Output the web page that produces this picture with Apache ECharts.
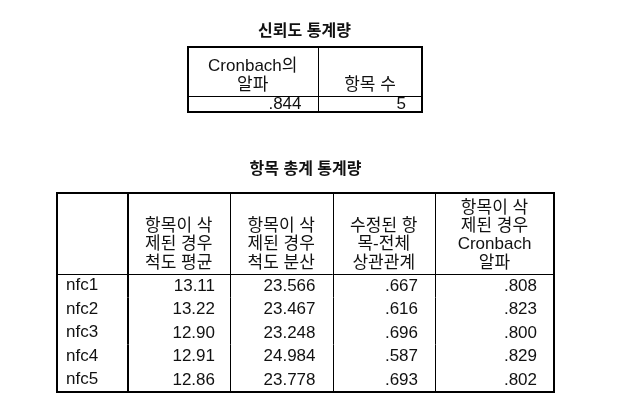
<!DOCTYPE html>
<html>
<head>
<meta charset="UTF-8">
<title>신뢰도 통계량</title>
<script src="https://cdn.jsdelivr.net/npm/echarts@6/dist/echarts.min.js"></script>
<style>
*{padding:0;margin:0}
body{background:#fff}
#main{width:631px;height:408px}
</style>
</head>
<body>
<div id="main"></div>
<script>
// 신뢰도 통계량
var reliabilityTitle = '신뢰도 통계량';
var reliabilityHeaders = ['Cronbach의\n알파', '항목 수'];
var reliabilityAlpha = [0.844];
var reliabilityItemCount = [5];

// 항목 총계 통계량
var itemTitle = '항목 총계 통계량';
var itemHeaders = ['', '항목이 삭\n제된 경우\n척도 평균', '항목이 삭\n제된 경우\n척도 분산',
    '수정된 항\n목-전체\n상관관계', '항목이 삭\n제된 경우\nCronbach\n알파'];
var itemNames = ['nfc1', 'nfc2', 'nfc3', 'nfc4', 'nfc5'];
var scaleMeanIfDeleted = [13.11, 13.22, 12.90, 12.91, 12.86];
var scaleVarianceIfDeleted = [23.566, 23.467, 23.248, 24.984, 23.778];
var correctedItemTotal = [0.667, 0.616, 0.696, 0.587, 0.693];
var alphaIfDeleted = [0.808, 0.823, 0.800, 0.829, 0.802];

var FONT = '"Liberation Sans", "Noto Sans CJK KR", sans-serif';
var INK = '#111';

// SPSS식 표기: 0.844 -> .844
function fmt(v, d) {
    var s = v.toFixed(d);
    return (v >= 0 && v < 1) ? s.replace(/^0/, '') : s;
}

// 표 배치 (크기/위치만)
var tables = [
    {
        left: 187.5, top: 46.7, colW: [130.5, 104], headH: 49.3, rowH: 15.7,
        thickCol: -1, padR: [16.5, 16], labelCol: false,
        headers: reliabilityHeaders,
        rows: reliabilityAlpha.map(function (a, i) {
            return [fmt(a, 3), fmt(reliabilityItemCount[i], 0)];
        })
    },
    {
        left: 57, top: 192.7, colW: [70.5, 102.5, 102.5, 102.5, 119], headH: 81.3, rowH: 23.5,
        thickCol: 1, padR: [0, 15, 17, 17, 17], labelCol: true,
        headers: itemHeaders,
        rows: itemNames.map(function (n, i) {
            return [n, fmt(scaleMeanIfDeleted[i], 2), fmt(scaleVarianceIfDeleted[i], 3),
                fmt(correctedItemTotal[i], 3), fmt(alphaIfDeleted[i], 3)];
        })
    }
];

tables.forEach(function (t) {
    t.edges = [0];
    t.colW.forEach(function (w) { t.edges.push(t.edges[t.edges.length - 1] + w); });
    t.totalW = t.edges[t.edges.length - 1];
    t.totalH = t.headH + t.rows.length * t.rowH;
    t.cells = [];
    t.texts = [];
    t.headers.forEach(function (h, c) { t.cells.push([c, 0]); t.texts.push(h); });
    t.rows.forEach(function (row, r) {
        row.forEach(function (v, c) { t.cells.push([c, r + 1]); t.texts.push(v); });
    });
});

function crisp(v, w) {
    return w % 2 ? Math.round(v) + 0.5 : Math.round(v);
}

function cellRenderer(t) {
    return function (params, api) {
        var c = api.value(0), r = api.value(1);
        var y0 = r === 0 ? 0 : t.headH + (r - 1) * t.rowH;
        var y1 = r === 0 ? t.headH : y0 + t.rowH;
        var p0 = api.coord([t.edges[c], y0]);
        var p1 = api.coord([t.edges[c + 1], y1]);
        var text = t.texts[params.dataIndex];
        var children = [];
        var style = {text: text, fill: INK, fontSize: 17, fontFamily: FONT};
        if (r === 0) {
            style.align = 'center';
            style.verticalAlign = 'bottom';
            style.lineHeight = 18.3;
            children.push({type: 'text', x: (p0[0] + p1[0]) / 2, y: p1[1] - 2, style: style});
            var hy = crisp(p1[1], 1);
            children.push({type: 'line', shape: {x1: p0[0], y1: hy, x2: p1[0], y2: hy},
                style: {stroke: '#000', lineWidth: 1}});
        } else if (t.labelCol && c === 0) {
            style.align = 'left';
            style.verticalAlign = 'middle';
            children.push({type: 'text', x: p0[0] + 9, y: (p0[1] + p1[1]) / 2, style: style});
        } else {
            style.align = 'right';
            style.verticalAlign = 'middle';
            children.push({type: 'text', x: p1[0] - t.padR[c], y: (p0[1] + p1[1]) / 2 + 0.5, style: style});
        }
        if (c > 0) {
            var lw = c === t.thickCol ? 2 : 1;
            var vx = crisp(p0[0], lw);
            children.push({type: 'line', shape: {x1: vx, y1: p0[1], x2: vx, y2: p1[1]},
                style: {stroke: '#000', lineWidth: lw}});
        }
        return {type: 'group', children: children};
    };
}

function frameRenderer(t) {
    return function (params, api) {
        var a = api.coord([0, 0]);
        var b = api.coord([t.totalW, t.totalH]);
        return {
            type: 'rect',
            shape: {x: Math.round(a[0]), y: Math.round(a[1]),
                width: Math.round(b[0]) - Math.round(a[0]), height: Math.round(b[1]) - Math.round(a[1])},
            style: {fill: 'none', stroke: '#000', lineWidth: 2}
        };
    };
}

var grids = [], xAxes = [], yAxes = [], series = [];
tables.forEach(function (t, k) {
    grids.push({left: t.left, top: t.top, width: t.totalW, height: t.totalH, containLabel: false});
    xAxes.push({type: 'value', gridIndex: k, min: 0, max: t.totalW, show: false});
    yAxes.push({type: 'value', gridIndex: k, min: 0, max: t.totalH, inverse: true, show: false});
    series.push({
        type: 'custom', xAxisIndex: k, yAxisIndex: k, clip: false, silent: true,
        renderItem: cellRenderer(t), data: t.cells, z: 2
    });
    series.push({
        type: 'custom', xAxisIndex: k, yAxisIndex: k, clip: false, silent: true,
        renderItem: frameRenderer(t), data: [[0, 0]], z: 3
    });
});

var option = {
    backgroundColor: '#fff',
    animation: false,
    title: [
        {text: reliabilityTitle, left: 304.5, top: 23.5, textAlign: 'center', padding: 0,
            textStyle: {fontSize: 16, fontWeight: 'bold', color: INK, fontFamily: FONT, lineHeight: 16}},
        {text: itemTitle, left: 305.5, top: 162, textAlign: 'center', padding: 0,
            textStyle: {fontSize: 16, fontWeight: 'bold', color: INK, fontFamily: FONT, lineHeight: 16}}
    ],
    grid: grids,
    xAxis: xAxes,
    yAxis: yAxes,
    series: series
};

var chart = echarts.init(document.getElementById('main'));
chart.setOption(option);
</script>
</body>
</html>
